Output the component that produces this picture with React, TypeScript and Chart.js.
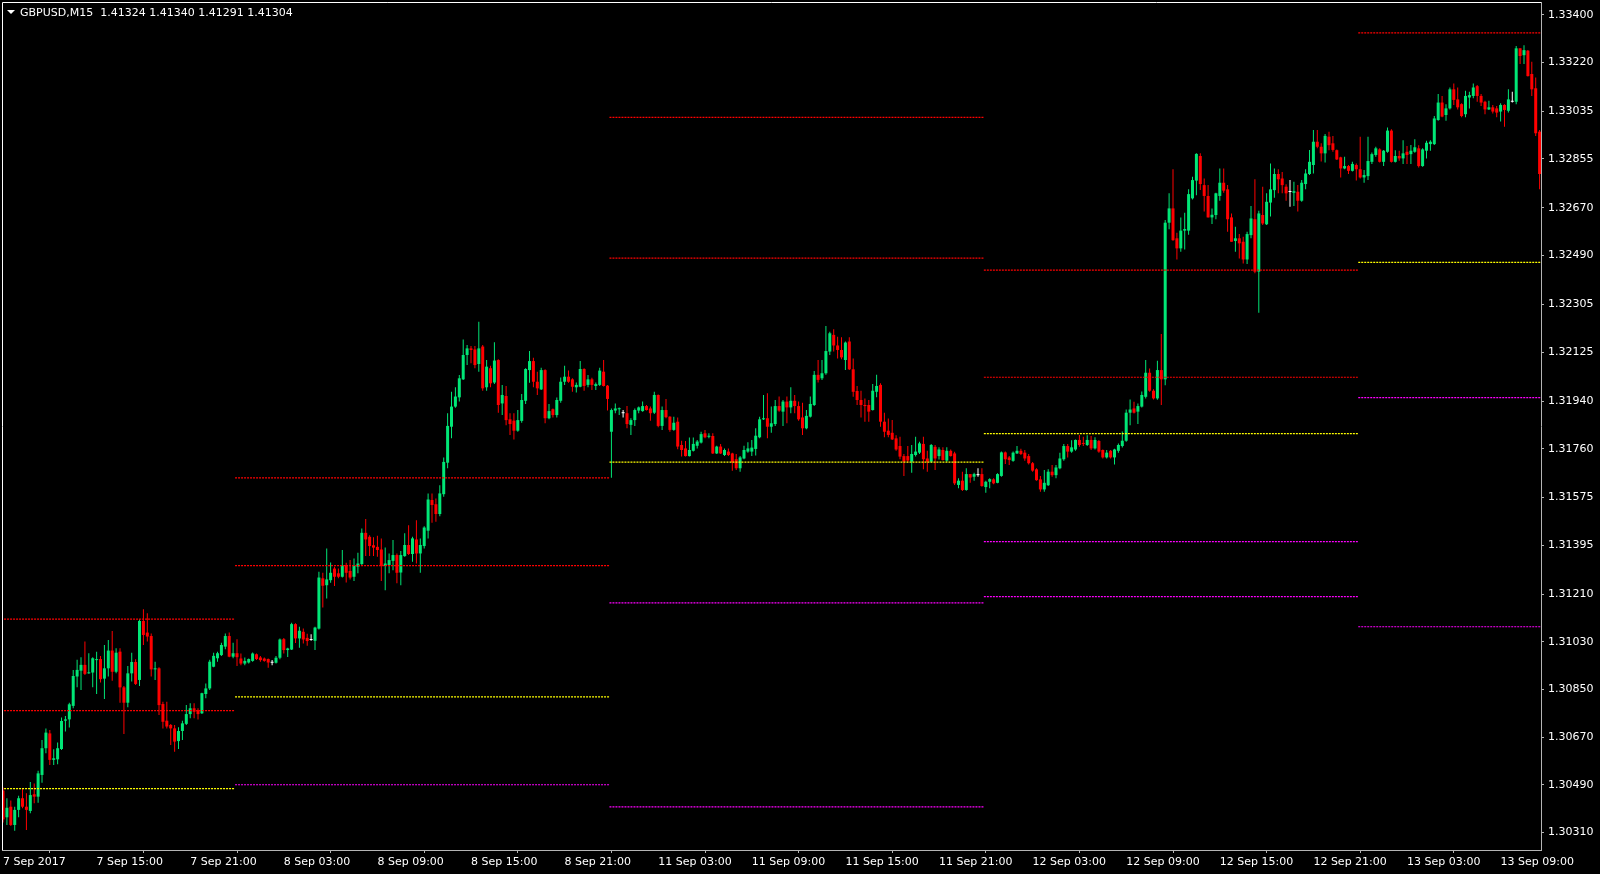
import React, { useEffect, useRef } from 'react';
import { Chart, registerables } from 'chart.js';

Chart.register(...registerables);

// Candle prices stored in points (0.00001) above 1.30000
const PRICE_BASE = 1.3;
const POINT = 0.00001;

const OPEN = [
  468,367,407,338,395,439,407,391,454,445,
  527,628,684,584,586,625,732,737,788,899,
  921,943,911,914,961,965,891,930,997,917,
  993,858,800,911,954,886,1109,1065,1052,926,
  930,795,732,716,703,655,693,720,757,779,
  772,760,833,854,936,968,980,1012,1052,974,
  987,967,948,952,958,983,971,967,965,951,
  951,970,1040,999,1001,1097,1043,1068,1045,1037,
  1034,1080,1270,1244,1263,1307,1289,1276,1320,1298,
  1276,1314,1324,1442,1427,1395,1389,1379,1317,1320,
  1336,1358,1292,1354,1396,1362,1417,1364,1392,1450,
  1566,1550,1513,1588,1707,1843,1919,1954,2022,2114,
  2139,2135,2080,2146,1992,2064,2010,2095,1931,1959,
  1871,1866,1828,1865,1941,2057,2091,2013,1984,2057,
  1875,1909,1887,1941,2013,2032,2022,1992,1994,2061,
  2001,2022,1997,2001,2051,1998,1824,1904,1909,1894,
  1894,1850,1868,1904,1902,1921,1912,1896,1963,1846,
  1906,1881,1831,1862,1774,1761,1732,1752,1771,1783,
  1818,1805,1808,1742,1768,1736,1749,1742,1720,1686,
  1723,1749,1749,1759,1803,1871,1875,1843,1853,1921,
  1900,1938,1916,1941,1921,1878,1837,1881,1925,2039,
  2026,2045,2127,2190,2150,2133,2095,2165,2060,1978,
  1944,1925,1925,1906,1975,2001,1862,1828,1820,1799,
  1770,1732,1732,1711,1736,1745,1778,1723,1711,1767,
  1732,1755,1715,1752,1742,1623,1639,1604,1664,1654,
  1660,1664,1615,1635,1644,1631,1657,1746,1727,1714,
  1742,1752,1745,1732,1705,1682,1644,1606,1622,1673,
  1660,1686,1720,1770,1749,1757,1793,1780,1774,1793,
  1761,1789,1755,1727,1752,1727,1752,1770,1790,1896,
  1912,1900,1919,1956,2047,1979,1950,2057,2022,2614,
  2668,2555,2517,2584,2584,2706,2773,2866,2756,2715,
  2634,2643,2715,2765,2740,2634,2545,2555,2542,2475,
  2567,2627,2429,2643,2608,2690,2737,2798,2781,2750,
  2730,2727,2731,2697,2760,2798,2832,2920,2901,2876,
  2939,2914,2888,2861,2819,2828,2810,2832,2816,2785,
  2790,2844,2870,2891,2844,2882,2962,2844,2866,2857,
  2882,2873,2882,2895,2828,2886,2911,2911,3002,3068,
  3021,3046,3118,3080,3062,3024,3087,3093,3130,3093,
  3071,3042,3050,3046,3034,3059,3037,3071,3071,3273,
  3247,3264,3176,3122,2958,
];

const HIGH = [
  480,439,430,407,448,476,458,500,495,543,
  659,703,697,624,650,744,750,800,924,962,
  972,1031,987,972,993,977,1018,1037,1071,1006,
  1006,863,939,989,964,1115,1153,1138,1062,955,
  934,804,804,720,716,707,732,791,798,798,
  779,838,873,962,989,993,1027,1062,1065,1027,
  1040,986,971,967,990,986,977,971,967,961,
  977,1043,1045,1008,1102,1100,1087,1080,1061,1059,
  1087,1295,1291,1383,1330,1314,1307,1377,1329,1339,
  1345,1367,1458,1494,1433,1425,1431,1421,1387,1364,
  1415,1364,1373,1440,1471,1427,1490,1421,1467,1591,
  1591,1572,1622,1727,1894,1975,1992,2038,2173,2152,
  2148,2148,2240,2152,2095,2073,2162,2098,2001,1997,
  1894,1894,1906,1967,2064,2129,2104,2051,2066,2060,
  1929,1912,1953,2029,2073,2055,2026,2010,2091,2064,
  2038,2028,2010,2066,2095,2001,1912,1931,1916,1906,
  1921,1875,1912,1919,1938,1925,1919,1975,1965,1919,
  1948,1883,1881,1878,1790,1789,1802,1802,1793,1824,
  1831,1818,1818,1771,1778,1761,1761,1745,1740,1732,
  1771,1784,1793,1837,1881,1963,1969,1919,1944,1957,
  1944,1957,1992,1963,1938,1934,1906,1957,2054,2095,
  2095,2224,2202,2211,2183,2181,2165,2181,2101,1997,
  1979,1950,1944,2004,2039,2007,1896,1874,1868,1811,
  1805,1740,1770,1774,1805,1786,1805,1752,1778,1774,
  1765,1765,1765,1757,1748,1648,1673,1686,1664,1669,
  1686,1686,1639,1648,1648,1667,1749,1749,1732,1749,
  1770,1760,1755,1740,1710,1686,1657,1679,1682,1698,
  1698,1745,1778,1778,1792,1795,1812,1805,1811,1808,
  1803,1793,1757,1755,1755,1760,1780,1825,1908,1946,
  1937,1931,1976,2095,2063,1985,2092,2193,2624,2725,
  2816,2576,2634,2652,2740,2788,2876,2876,2781,2756,
  2668,2727,2819,2819,2756,2649,2599,2571,2561,2580,
  2677,2778,2659,2750,2725,2838,2819,2816,2806,2759,
  2775,2769,2756,2775,2816,2889,2964,2964,2914,2949,
  2958,2942,2891,2863,2863,2832,2844,2838,2939,2813,
  2939,2879,2901,2895,2889,2974,2967,2888,2886,2926,
  2904,2908,2929,2907,2895,2924,2926,3017,3100,3093,
  3062,3125,3140,3125,3065,3113,3109,3140,3134,3100,
  3075,3075,3059,3055,3065,3062,3118,3109,3282,3273,
  3285,3267,3222,3163,2964,
];

const LOW = [
  347,338,334,316,367,401,319,382,420,422,
  498,609,565,565,567,621,691,706,779,858,
  848,905,909,858,833,876,814,899,883,911,
  800,682,783,880,867,863,1018,1031,899,886,
  754,703,703,640,615,625,659,716,741,741,
  737,757,817,848,934,955,977,1002,972,968,
  939,942,942,948,955,961,955,955,932,942,
  948,964,986,973,999,1026,1008,1024,1015,1034,
  999,1077,1160,1194,1253,1241,1270,1273,1254,1266,
  1260,1289,1320,1354,1354,1354,1352,1260,1225,1289,
  1301,1251,1244,1352,1358,1333,1326,1291,1383,1421,
  1480,1484,1505,1578,1686,1799,1915,1938,2020,2076,
  2083,2064,2051,1979,1979,1992,2004,1896,1887,1849,
  1812,1795,1824,1858,1929,2009,1992,1963,1982,1856,
  1871,1878,1878,1934,2001,2009,1975,1972,1992,1979,
  1992,1982,1982,1997,1995,1904,1650,1894,1887,1878,
  1837,1812,1846,1894,1900,1904,1866,1891,1841,1831,
  1875,1824,1828,1758,1730,1730,1730,1749,1761,1780,
  1799,1799,1740,1740,1740,1732,1732,1677,1679,1673,
  1720,1745,1732,1734,1799,1868,1799,1820,1846,1900,
  1846,1856,1894,1894,1866,1812,1833,1878,1921,2010,
  2020,2039,2114,2127,2101,2098,2057,2057,1956,1925,
  1878,1862,1862,1904,1954,1843,1803,1803,1793,1752,
  1720,1657,1707,1669,1730,1740,1682,1673,1707,1679,
  1719,1715,1711,1730,1623,1610,1600,1601,1631,1639,
  1654,1616,1593,1610,1626,1629,1654,1702,1698,1711,
  1740,1736,1714,1700,1673,1639,1597,1597,1619,1654,
  1648,1682,1714,1727,1745,1752,1767,1770,1770,1755,
  1757,1745,1723,1723,1723,1700,1745,1764,1786,1849,
  1893,1853,1916,1950,1975,1946,1945,1925,2000,2589,
  2546,2475,2504,2513,2568,2702,2718,2738,2656,2634,
  2609,2627,2697,2727,2580,2542,2504,2479,2460,2458,
  2555,2423,2274,2605,2605,2637,2708,2725,2725,2697,
  2674,2677,2656,2693,2740,2794,2800,2895,2845,2841,
  2888,2882,2851,2785,2816,2798,2807,2773,2781,2765,
  2775,2836,2863,2841,2828,2878,2841,2841,2848,2836,
  2836,2836,2878,2823,2825,2857,2886,2908,2999,3012,
  2999,3042,3059,3042,3012,3012,3046,3084,3071,3055,
  3024,3040,3027,3012,2996,2977,3030,3068,3062,3214,
  3214,3166,3093,2942,2740,
];

const CLOSE = [
  359,403,338,395,439,407,395,451,445,533,
  628,687,584,590,628,731,737,794,901,924,
  943,909,914,968,963,889,930,997,917,989,
  858,800,911,954,871,1109,1056,1050,926,930,
  791,728,710,703,653,693,722,757,779,766,
  757,836,854,955,977,987,1018,1052,974,987,
  972,948,958,965,986,965,961,958,952,951,
  970,1039,999,1005,1097,1043,1072,1039,1033,1037,
  1084,1273,1242,1266,1291,1276,1276,1317,1291,1273,
  1317,1326,1442,1417,1392,1386,1377,1317,1326,1339,
  1358,1291,1358,1396,1362,1421,1364,1396,1462,1568,
  1547,1513,1591,1710,1846,1919,1957,2026,2114,2139,
  2133,2076,2139,1988,2070,2007,2093,1925,1963,1868,
  1853,1828,1868,1944,2061,2091,2013,1988,2057,1875,
  1902,1887,1944,2013,2032,2013,1994,2001,2061,1997,
  2022,2001,2004,2055,1997,1948,1906,1912,1913,1894,
  1853,1868,1906,1916,1921,1906,1894,1963,1846,1906,
  1879,1831,1858,1768,1755,1732,1755,1778,1787,1815,
  1803,1808,1742,1768,1742,1755,1736,1708,1686,1727,
  1755,1761,1764,1809,1871,1875,1843,1856,1921,1904,
  1938,1916,1941,1921,1871,1837,1884,1929,2039,2020,
  2045,2129,2196,2150,2133,2105,2161,2060,1975,1944,
  1925,1921,1900,1979,1997,1862,1824,1812,1795,1757,
  1730,1711,1715,1740,1749,1780,1720,1711,1774,1723,
  1757,1717,1752,1732,1629,1639,1604,1664,1651,1664,
  1660,1619,1635,1645,1629,1664,1746,1720,1717,1745,
  1752,1740,1723,1705,1677,1641,1606,1631,1673,1660,
  1689,1723,1770,1749,1765,1793,1774,1778,1793,1761,
  1793,1749,1727,1745,1727,1757,1774,1790,1896,1908,
  1896,1921,1963,2047,1979,1950,2057,2022,2614,2668,
  2548,2517,2584,2590,2722,2775,2874,2760,2715,2634,
  2644,2725,2765,2735,2627,2542,2555,2536,2475,2571,
  2630,2429,2649,2611,2693,2740,2798,2778,2756,2725,
  2730,2733,2697,2765,2800,2844,2920,2901,2876,2942,
  2907,2889,2853,2819,2828,2810,2836,2816,2785,2794,
  2847,2873,2895,2844,2886,2962,2844,2866,2857,2876,
  2870,2886,2899,2828,2891,2916,2920,3008,3068,3015,
  3046,3118,3078,3050,3017,3093,3096,3125,3093,3068,
  3042,3050,3034,3030,3059,3040,3080,3071,3273,3244,
  3266,3168,3118,2952,2798,
];

// Daily pivot levels (prices), one entry per trading day
const DAYS = ['7 Sep', '8 Sep', '11 Sep', '12 Sep', '13 Sep'];
const PIVOT = [1.30475, 1.30822, 1.31709, 1.31817, 1.32464];
const R1 = [1.3077, 1.31318, 1.3248, 1.3203, 1.33331];
const R2 = [1.31116, 1.3165, 1.33012, 1.32435, null];
const S1 = [null, 1.3049, 1.31177, 1.31409, 1.31953];
const S2 = [null, null, 1.30406, 1.31201, 1.31087];

const Y_TICKS = [
  1.334, 1.3322, 1.33035, 1.32855, 1.3267, 1.3249, 1.32305, 1.32125, 1.3194,
  1.3176, 1.31575, 1.31395, 1.3121, 1.3103, 1.3085, 1.3067, 1.3049, 1.3031,
];

const X_LABELS = [
  '7 Sep 2017', '7 Sep 15:00', '7 Sep 21:00', '8 Sep 03:00', '8 Sep 09:00',
  '8 Sep 15:00', '8 Sep 21:00', '11 Sep 03:00', '11 Sep 09:00', '11 Sep 15:00',
  '11 Sep 21:00', '12 Sep 03:00', '12 Sep 09:00', '12 Sep 15:00', '12 Sep 21:00',
  '13 Sep 03:00', '13 Sep 09:00',
];

const TITLE = 'GBPUSD,M15  1.41324 1.41340 1.41291 1.41304';

const BULL = '#00E676';
const BEAR = '#FF0000';
const DOJI = '#FFFFFF';
const RES_COLOR = '#FF0000';
const PIV_COLOR = '#FFFF00';
const SUP_COLOR = '#FF00FF';
const AXIS_COLOR = '#B4B4B4';
const FONT = { family: 'DejaVu Sans', size: 11 };

function buildBarTimes(n: number): Date[] {
  const out: Date[] = [];
  let t = Date.UTC(2017, 8, 7, 9, 0);
  while (out.length < n) {
    const d = new Date(t);
    const wd = d.getUTCDay();
    if (wd !== 0 && wd !== 6) out.push(d);
    t += 15 * 60 * 1000;
  }
  return out;
}

export default function App() {
  const ref = useRef<HTMLCanvasElement | null>(null);

  useEffect(() => {
    if (!ref.current) return;
    const n = Math.min(OPEN.length, HIGH.length, LOW.length, CLOSE.length);
    const price = (v: number) => +(PRICE_BASE + v * POINT).toFixed(5);
    const times = buildBarTimes(n);

    const colors: string[] = [];
    const wickData: any[] = [];
    const bodyData: any[] = [];
    for (let i = 0; i < n; i++) {
      const o = price(OPEN[i]);
      const c = price(CLOSE[i]);
      colors.push(o === c ? DOJI : c > o ? BULL : BEAR);
      wickData.push({ x: i, y: [price(LOW[i]), price(HIGH[i])] });
      bodyData.push({ x: i, y: [Math.min(o, c), Math.max(o, c)] });
    }

    // x ticks: every 6 hours at 03/09/15/21
    const tickBars: number[] = [];
    times.forEach((d, i) => {
      if (d.getUTCMinutes() === 0 && d.getUTCHours() % 6 === 3) tickBars.push(i);
    });
    const tickLabel = new Map<number, string>();
    tickBars.forEach((b, k) => tickLabel.set(b, X_LABELS[k] ?? ''));

    // day ranges
    const dayRange: { first: number; last: number }[] = DAYS.map(() => ({ first: -1, last: -1 }));
    times.forEach((d, i) => {
      const key = `${d.getUTCDate()} Sep`;
      const di = DAYS.indexOf(key);
      if (di >= 0) {
        if (dayRange[di].first < 0) dayRange[di].first = i;
        dayRange[di].last = i;
      }
    });

    const lineSets: any[] = [];
    const addLevels = (levels: (number | null)[], color: string) => {
      levels.forEach((lv, di) => {
        const r = dayRange[di];
        if (lv == null || r.first < 0) return;
        lineSets.push({
          type: 'line',
          data: [
            { x: r.first - 0.5, y: lv },
            { x: r.last + 0.5, y: lv },
          ],
          borderColor: color,
          borderWidth: 1.2,
          borderDash: [2, 1],
          pointRadius: 0,
          fill: false,
          order: 0,
        });
      });
    };
    addLevels(R2, RES_COLOR);
    addLevels(R1, RES_COLOR);
    addLevels(PIVOT, PIV_COLOR);
    addLevels(S1, SUP_COLOR);
    addLevels(S2, SUP_COLOR);

    const framePlugin = {
      id: 'mt4frame',
      afterDraw(chart: any) {
        const { ctx, chartArea: a } = chart;
        ctx.save();
        ctx.strokeStyle = '#FFFFFF';
        ctx.lineWidth = 1;
        ctx.beginPath();
        ctx.moveTo(a.left + 0.5, a.bottom);
        ctx.lineTo(a.left + 0.5, a.top + 0.5);
        ctx.lineTo(a.right, a.top + 0.5);
        ctx.stroke();
        ctx.fillStyle = '#FFFFFF';
        ctx.beginPath();
        ctx.moveTo(7, 10);
        ctx.lineTo(15, 10);
        ctx.lineTo(11, 14);
        ctx.closePath();
        ctx.fill();
        ctx.font = '11px "DejaVu Sans"';
        ctx.textBaseline = 'middle';
        ctx.textAlign = 'left';
        ctx.fillText(TITLE, 20, 13);
        ctx.restore();
      },
    };

    const chart = new Chart(ref.current, {
      type: 'bar',
      data: {
        datasets: [
          ...lineSets,
          {
            type: 'bar',
            data: bodyData,
            backgroundColor: colors,
            borderWidth: 0,
            barThickness: 3,
            minBarLength: 1,
            grouped: false,
            inflateAmount: 0,
            order: 1,
          },
          {
            type: 'bar',
            data: wickData,
            backgroundColor: colors,
            borderWidth: 0,
            barThickness: 1,
            minBarLength: 1,
            grouped: false,
            inflateAmount: 0,
            order: 2,
          },
        ],
      } as any,
      options: {
        responsive: false,
        devicePixelRatio: 1,
        animation: false,
        events: [],
        layout: { padding: { left: 2, top: 2, right: 0, bottom: 0 }, autoPadding: false },
        plugins: { legend: { display: false }, tooltip: { enabled: false } },
        scales: {
          x: {
            type: 'linear',
            min: -0.26,
            max: 394.36,
            offset: false,
            grid: { display: true, drawOnChartArea: false, drawTicks: true, tickLength: 3, color: AXIS_COLOR },
            border: { display: true, color: AXIS_COLOR, width: 1 },
            ticks: {
              autoSkip: false,
              maxRotation: 0,
              minRotation: 0,
              align: 'start',
              padding: 3,
              color: '#FFFFFF',
              font: FONT,
              callback: (v: any) => tickLabel.get(Number(v)) ?? '',
            },
            afterBuildTicks: (s: any) => {
              s.ticks = tickBars.map((v) => ({ value: v }));
            },
            afterFit: (s: any) => {
              s.height = 24;
              s.paddingLeft = 0;
              s.paddingRight = 0;
              s.paddingTop = 0;
              s.paddingBottom = 0;
            },
          },
          y: {
            type: 'linear',
            position: 'right',
            min: 1.302434,
            max: 1.33448,
            grid: { display: true, drawOnChartArea: false, drawTicks: true, tickLength: 3, color: AXIS_COLOR },
            border: { display: true, color: AXIS_COLOR, width: 1 },
            ticks: {
              padding: 4,
              color: '#FFFFFF',
              font: FONT,
              callback: (v: any) => Number(v).toFixed(5),
            },
            afterBuildTicks: (s: any) => {
              s.ticks = Y_TICKS.map((v) => ({ value: v }));
            },
            afterFit: (s: any) => {
              s.width = 59;
              s.paddingLeft = 0;
              s.paddingRight = 0;
              s.paddingTop = 0;
              s.paddingBottom = 0;
            },
          },
        },
      } as any,
      plugins: [framePlugin],
    });

    return () => chart.destroy();
  }, []);

  return (
    <div style={{ position: 'fixed', left: 0, top: 0, width: 1600, height: 874, background: '#000000' }}>
      <canvas ref={ref} width={1600} height={874} style={{ display: 'block', width: 1600, height: 874 }} />
    </div>
  );
}
